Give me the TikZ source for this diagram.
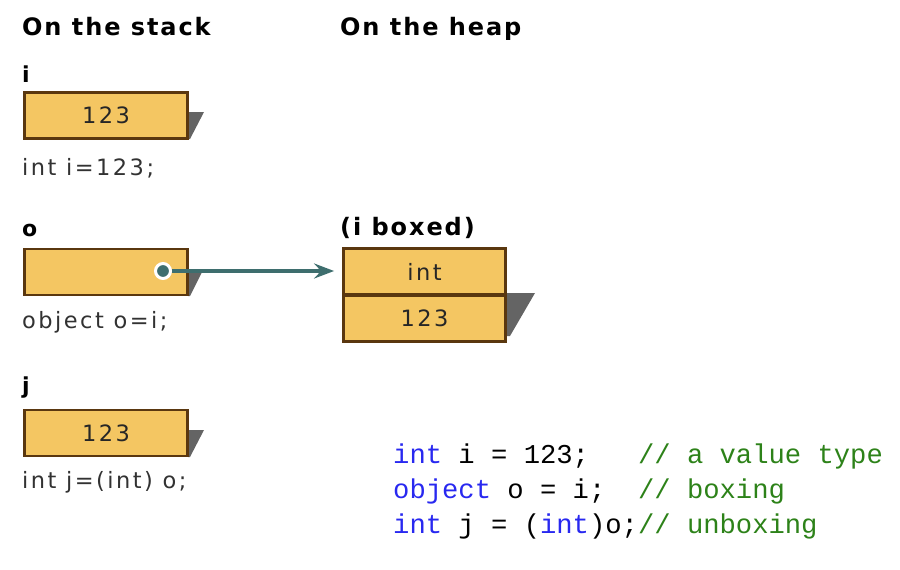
\documentclass[tikz,border=0pt]{standalone}
\usepackage{fontspec}
\setmainfont{DejaVu Sans}
\newfontfamily\labelfont[LetterSpace=11]{DejaVu Sans}
\newfontfamily\headfont[LetterSpace=8]{DejaVu Sans Bold}
\newfontfamily\codefont{Liberation Mono}
\usetikzlibrary{arrows.meta}
\definecolor{boxfill}{RGB}{244,198,98}
\definecolor{boxedge}{RGB}{90,55,15}
\definecolor{shadowgray}{RGB}{100,100,100}
\definecolor{arrowteal}{RGB}{62,110,110}
\definecolor{kwblue}{RGB}{40,40,240}
\definecolor{cmtgreen}{RGB}{45,130,25}
\definecolor{labelgray}{RGB}{50,50,50}
\begin{document}
\begin{tikzpicture}[x=1pt,y=-1pt,
  header/.style={anchor=base west, inner sep=0pt, font=\headfont\fontsize{24}{28}\selectfont},
  varname/.style={anchor=base west, inner sep=0pt, font=\headfont\fontsize{22}{26}\selectfont},
  decl/.style={anchor=base west, inner sep=0pt, text=labelgray, font=\labelfont\fontsize{22.5}{26}\selectfont},
  cell/.style={draw=boxedge, line width=2.8pt, fill=boxfill, minimum width=163pt, minimum height=46pt, inner sep=0pt, font=\labelfont\fontsize{22.5}{26}\selectfont, text=black!85},
  shadowfill/.style={fill=shadowgray},
  code/.style={anchor=base west, inner sep=0pt, font=\codefont\fontsize{27.2}{32}\selectfont}]
\useasboundingbox (0,0) rectangle (900,570);
% headers
\node[header] (hstack) at (22,35) {On the stack};
\node[header] (hheap) at (340,35) {On the heap};
% shadows
\fill[shadowfill] (188,112) -- (204,112) -- (190,139) -- (188,139) -- cycle;
\fill[shadowfill] (188,272) -- (202,272) -- (190,296) -- (188,296) -- cycle;
\fill[shadowfill] (188,430) -- (204,430) -- (190,457) -- (188,457) -- cycle;
\fill[shadowfill] (506,293) -- (535,293) -- (510,336) -- (506,336) -- cycle;
% variable i
\node[varname] (ni) at (22,82) {i};
\node[cell] (bi) at (106,115.5) {123};
\node[decl] (di) at (22,175) {int i=123;};
% variable o
\node[varname] (no) at (22,236) {o};
\node[cell] (bo) at (106,272) {};
\node[decl] (do) at (22,328) {object o=i;};
% heap
\node[header] (hboxed) at (340,235) {(i boxed)};
\node[cell, minimum width=162pt] (htop) at (424.5,271.5) {int};
\node[cell, minimum width=162pt] (hbot) at (424.5,318.5) {123};
% pointer
\node[circle, fill=arrowteal, draw=white, line width=3pt, minimum size=15pt, inner sep=0pt] (dot) at (163,271) {};
\draw[arrowteal, line width=3.5pt, -{Stealth[length=20pt,width=15pt,inset=7pt]}, shorten >=8pt] (dot.east) -- (dot.east -| htop.west);
% variable j
\node[varname] (nj) at (22,393) {j};
\node[cell] (bj) at (106,433) {123};
\node[decl] (dj) at (22,488) {int j=(int) o;};
% code
\node[code] (c1) at (393,463) {\textcolor{kwblue}{int} i = 123;\ \ \ \textcolor{cmtgreen}{// a value type}};
\node[code] (c2) at (393,498) {\textcolor{kwblue}{object} o = i;\ \ \textcolor{cmtgreen}{// boxing}};
\node[code] (c3) at (393,533) {\textcolor{kwblue}{int} j = (\textcolor{kwblue}{int})o;\textcolor{cmtgreen}{// unboxing}};
\end{tikzpicture}
\end{document}
